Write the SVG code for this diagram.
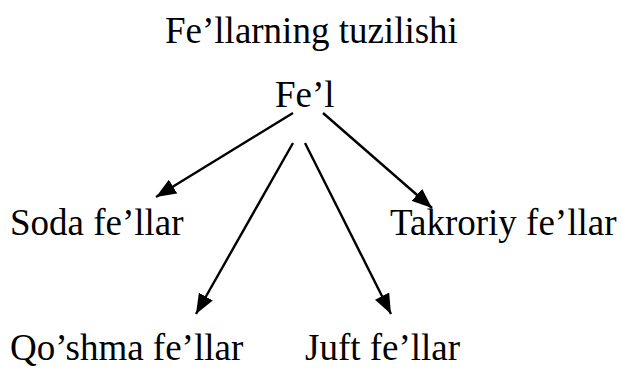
<svg xmlns="http://www.w3.org/2000/svg" width="623" height="369" viewBox="0 0 623 369">
<style>
text{font-family:"Liberation Serif","Times New Roman",serif;font-size:37px;fill:#000}
.c{stroke:#000;stroke-width:2.4;fill:none;marker-end:url(#ah)}
</style>
<defs>
<marker id="ah" viewBox="0 0 20 16" refX="20" refY="8" markerWidth="20" markerHeight="16" markerUnits="userSpaceOnUse" orient="auto">
<path d="M0,0 L20,8 L0,16 Z" fill="#000"/>
</marker>
</defs>
<rect width="623" height="369" fill="#fff"/>
<g id="title"><text x="165" y="43">Fe’llarning tuzilishi</text></g>
<g id="fel"><text x="275" y="107">Fe’l</text></g>
<g id="soda"><text x="10" y="235">Soda fe’llar</text></g>
<g id="takroriy"><text x="390" y="235">Takroriy fe’llar</text></g>
<g id="qoshma"><text x="10" y="360">Qo’shma fe’llar</text></g>
<g id="juft"><text x="305" y="360">Juft fe’llar</text></g>
<g id="connectors">
<line class="c" x1="293" y1="113" x2="156" y2="197"/>
<line class="c" x1="323" y1="113" x2="432" y2="208"/>
<line class="c" x1="293" y1="143" x2="196" y2="314"/>
<line class="c" x1="305" y1="143" x2="391" y2="314"/>
</g>
</svg>
